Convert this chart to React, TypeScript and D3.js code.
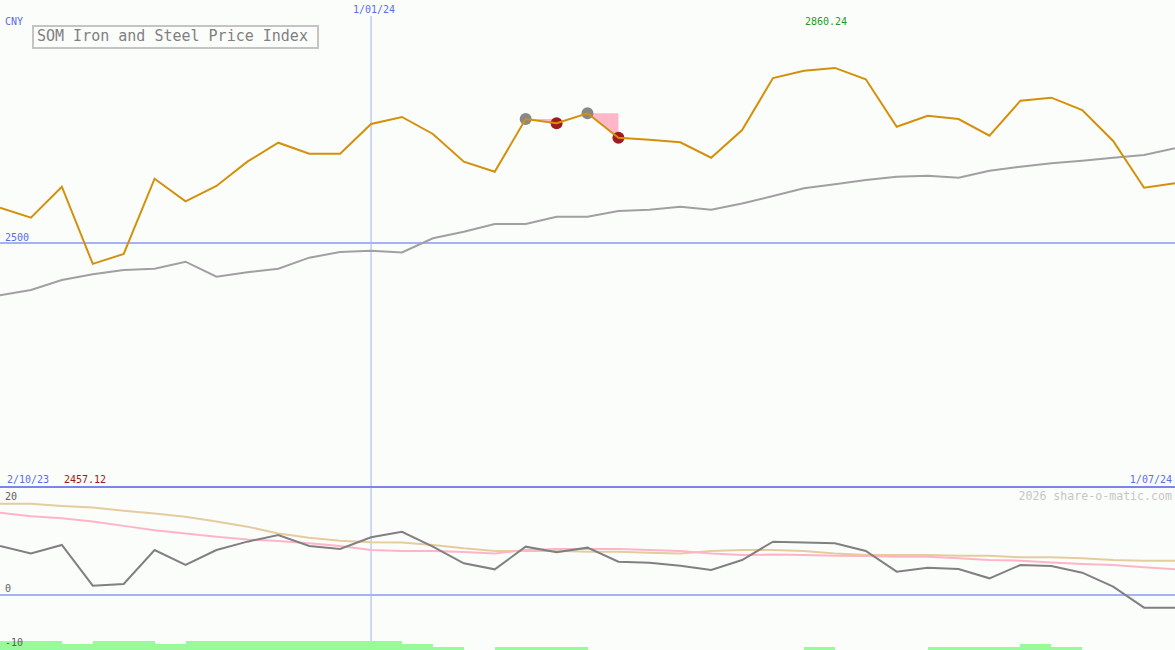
import React from 'react';
import * as d3 from 'd3';

// weekly closes of the index (CNY)
const price = [
  2572.6, 2552.1, 2615.8, 2457.12, 2477.4, 2632.3, 2585.8, 2617.3, 2667.3, 2706.4,
  2683.7, 2683.7, 2744.9, 2759.3, 2724.3, 2667.3, 2646.7, 2755.1, 2746.3, 2766.9,
  2716.7, 2712.6, 2707.2, 2675.5, 2732.5, 2839.5, 2854.5, 2860.24, 2836.8, 2739.3,
  2761.9, 2755.1, 2720.8, 2792.8, 2799.0, 2773.7, 2709.9, 2613.8, 2622.8,
];

const movingAvg = [
  2392.4, 2403.3, 2423.9, 2435.6, 2444.4, 2447.1, 2461.5, 2430.7, 2439.7, 2447.1,
  2469.8, 2481.5, 2484.2, 2480.5, 2509.7, 2523.3, 2539.1, 2539.1, 2554.1, 2554.1,
  2565.8, 2568.5, 2574.7, 2568.5, 2581.3, 2596.7, 2612.6, 2620.8, 2629.6, 2636.4,
  2638.5, 2634.4, 2648.8, 2657.0, 2664.0, 2669.3, 2675.5, 2681.1, 2694.9,
];

// lower panel
const oscillator = [
  9.07, 7.7, 9.26, 1.73, 2.04, 8.33, 5.56, 8.33, 9.88, 11.1,
  9.07, 8.52, 10.7, 11.7, 8.95, 5.86, 4.75, 8.95, 7.9, 8.77,
  6.17, 5.99, 5.43, 4.63, 6.48, 9.88, 9.7, 9.6, 8.15, 4.32,
  5.06, 4.8, 3.09, 5.56, 5.37, 4.13, 1.54, -2.35, -2.35,
];

const slowTan = [
  16.9, 16.9, 16.5, 16.2, 15.6, 15.1, 14.5, 13.6, 12.65, 11.4,
  10.6, 10.06, 9.75, 9.7, 9.26, 8.64, 8.15, 8.15, 8.2, 8.02,
  8.02, 7.84, 7.7, 8.15, 8.33, 8.33, 8.15, 7.7, 7.4, 7.4,
  7.4, 7.28, 7.28, 6.98, 6.98, 6.8, 6.48, 6.35, 6.35,
];

const slowPink = [
  15.24, 14.6, 14.2, 13.6, 12.8, 12.0, 11.4, 10.8, 10.3, 10.0,
  9.57, 9.07, 8.33, 8.15, 8.15, 7.96, 7.7, 8.33, 8.52, 8.52,
  8.52, 8.33, 8.15, 7.7, 7.4, 7.5, 7.4, 7.28, 7.2, 7.1,
  7.1, 6.8, 6.48, 6.36, 6.0, 5.74, 5.56, 5.12, 4.75,
];

const histogram = [
  3, 3, 2, 3, 3, 2, 3, 3, 3, 3, 3, 3, 3, 2, 1, 0, 1, 1, 1, 0,
  0, 0, 0, 0, 0, 0, 1, 0, 0, 0, 1, 1, 1, 2, 1, 0, 0, 0, 0,
];

// signal markers: [from index, to index]
const signals = [
  [17, 18],
  [19, 20],
];

const startLabel = '2/10/23';
const endLabel = '1/07/24';
const yearLabel = '1/01/24';
const yearIndex = 12;
const lowerTicks = [20, 0, -10];

const W = 1175;
const H = 650;
const mono = '"DejaVu Sans Mono", "Liberation Mono", monospace';
const blue = '#5a6cf0';

const App: React.FC = () => {
  const x = d3.scaleLinear().domain([0, price.length - 1]).range([0, W]);
  const y = d3.scaleLinear().domain([2000, 3000]).range([486, 0]);
  const yLow = d3.scaleLinear().domain([-10, 20]).range([649, 487]);
  const yHist = d3.scaleLinear().domain([0, 3]).range([H, H - 9]);

  const line = (vals: number[], sc: d3.ScaleLinear<number, number>) =>
    d3
      .line<number>()
      .x((_, i) => x(i))
      .y(d => sc(d))(vals) || '';

  const maxV = d3.max(price) as number;
  const minV = d3.min(price) as number;

  return (
    <>
      <style>{'body{margin:0}'}</style>
      <svg width={W} height={H} style={{ display: 'block', background: '#fbfdfb' }}>
        <rect width={W} height={H} fill="#fbfdfb" />

        {/* grid lines */}
        <line x1={x(yearIndex)} x2={x(yearIndex)} y1={16} y2={H} stroke="#a4b2f6" strokeWidth={1} />
        <line x1={0} x2={W} y1={y(2500)} y2={y(2500)} stroke="#a4b2f2" strokeWidth={2} />
        <line x1={0} x2={W} y1={yLow(0)} y2={yLow(0)} stroke="#a4b2f2" strokeWidth={2} />
        <line x1={0} x2={W} y1={487} y2={487} stroke="#7b86ec" strokeWidth={2} />

        {/* histogram */}
        {histogram.map((h, i) =>
          h > 0 && i < histogram.length - 1 ? (
            <rect
              key={i}
              x={x(i)}
              y={yHist(h)}
              width={x(i + 1) - x(i)}
              height={H - yHist(h)}
              fill="#98fa98"
              shapeRendering="crispEdges"
            />
          ) : null
        )}

        {/* signal triangles and markers */}
        {signals.map(([a, b], k) => (
          <path
            key={'t' + k}
            d={`M${x(a)},${y(price[a])}L${x(b)},${y(price[a])}L${x(b)},${y(price[b])}Z`}
            fill="#ffb6c9"
          />
        ))}
        {signals.map(([a, b], k) => (
          <g key={'c' + k}>
            <circle cx={x(a)} cy={y(price[a])} r={6} fill="#888888" />
            <circle cx={x(b)} cy={y(price[b])} r={6} fill="#a01c1c" />
          </g>
        ))}

        {/* main panel lines */}
        <path d={line(movingAvg, y)} fill="none" stroke="#a0a0a0" strokeWidth={2} />
        <path d={line(price, y)} fill="none" stroke="#d4900a" strokeWidth={2} />

        {/* lower panel lines */}
        <path d={line(slowTan, yLow)} fill="none" stroke="#e4cc9e" strokeWidth={2} />
        <path d={line(slowPink, yLow)} fill="none" stroke="#ffb4c8" strokeWidth={2} />
        <path d={line(oscillator, yLow)} fill="none" stroke="#808080" strokeWidth={2} />

        {/* title */}
        <rect x={33} y={26} width={285} height={22} fill="none" stroke="#c4c4c4" strokeWidth={2} />
        <text x={37} y={41} fontFamily={mono} fontSize={15} fill="#808080">
          SOM Iron and Steel Price Index
        </text>

        {/* labels */}
        <g fontFamily={mono} fontSize={10}>
          <text x={5} y={25} fill={blue}>CNY</text>
          <text x={x(yearIndex) + 3} y={13} fill={blue} textAnchor="middle">{yearLabel}</text>
          <text x={5} y={y(2500) - 2} fill={blue}>2500</text>
          <text x={826} y={25} fill="#1e9a1e" textAnchor="middle">{maxV.toFixed(2)}</text>
          <text x={7} y={483} fill={blue}>{startLabel}</text>
          <text x={64} y={483} fill="#a01818">{minV.toFixed(2)}</text>
          <text x={1172} y={483} fill={blue} textAnchor="end">{endLabel}</text>
          {lowerTicks.map(t => (
            <text key={t} x={5} y={t === 20 ? 500 : yLow(t) - 3} fill="#606060">
              {t}
            </text>
          ))}
        </g>
        <text x={1172} y={500} fontFamily={mono} fontSize={11.6} fill="#c6c6c6" textAnchor="end">
          2026 share-o-matic.com
        </text>
      </svg>
    </>
  );
};

export default App;
